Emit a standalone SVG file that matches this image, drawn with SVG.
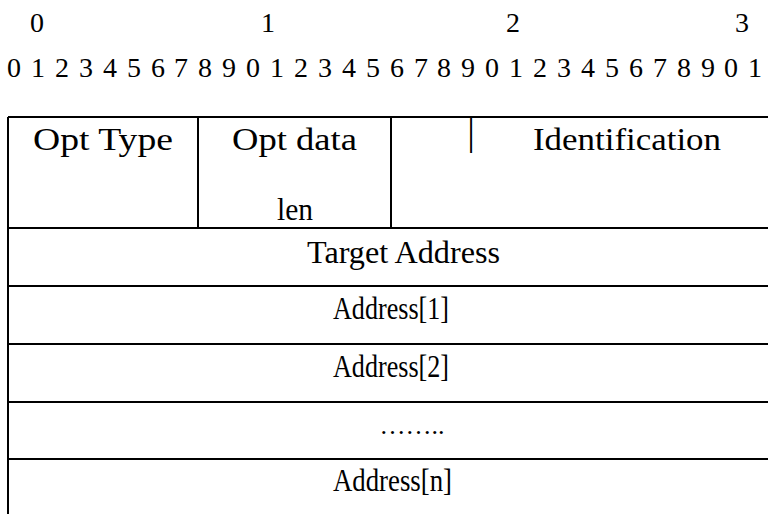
<svg xmlns="http://www.w3.org/2000/svg" width="768" height="514" viewBox="0 0 768 514">
<style>
text{font-family:"Liberation Serif","Times New Roman",serif;font-size:31px;fill:#000}
.c{text-anchor:middle}
.d{font-size:28px}
.ln{stroke:#000;stroke-width:2;fill:none}
</style>
<rect width="768" height="514" fill="#fff"/>
<g id="header">
<text x="37" y="32" class="c d">0</text>
<text x="268" y="32" class="c d">1</text>
<text x="513" y="32" class="c d">2</text>
<text x="742" y="32" class="c d">3</text>
<text y="77" class="c d" x="14 38 62 86 110 134 158 181 205 229 253 277 301 325 349 373 397 421 444 468 492 516 540 564 588 612 636 660 684 708 731 755">01234567890123456789012345678901</text>
</g>
<g id="connectors">
<path class="ln" d="M8 117H768M8 228H768M8 286H768M8 344H768M8 402H768M8 459H768M8 117V514M198 117V228M391 117V228"/>
</g>
<g id="opt-type"><text x="33" y="150" textLength="140" lengthAdjust="spacingAndGlyphs">Opt Type</text></g>
<g id="opt-data-len"><text x="232" y="150" textLength="125" lengthAdjust="spacingAndGlyphs">Opt data</text><text x="277" y="220" textLength="36" lengthAdjust="spacingAndGlyphs">len</text></g>
<g id="identification"><text x="471" y="145" class="c" style="font-size:38px">|</text><text x="533" y="150" textLength="188" lengthAdjust="spacingAndGlyphs">Identification</text></g>
<g id="target-address"><text x="307" y="263" textLength="193" lengthAdjust="spacingAndGlyphs">Target Address</text></g>
<g id="address-1"><text x="333" y="319" textLength="116" lengthAdjust="spacingAndGlyphs">Address[1]</text></g>
<g id="address-2"><text x="333" y="377" textLength="116" lengthAdjust="spacingAndGlyphs">Address[2]</text></g>
<g id="ellipsis"><text x="412" y="434" class="c" style="font-size:26px">……..</text></g>
<g id="address-n"><text x="333" y="491" textLength="119" lengthAdjust="spacingAndGlyphs">Address[n]</text></g>
</svg>
